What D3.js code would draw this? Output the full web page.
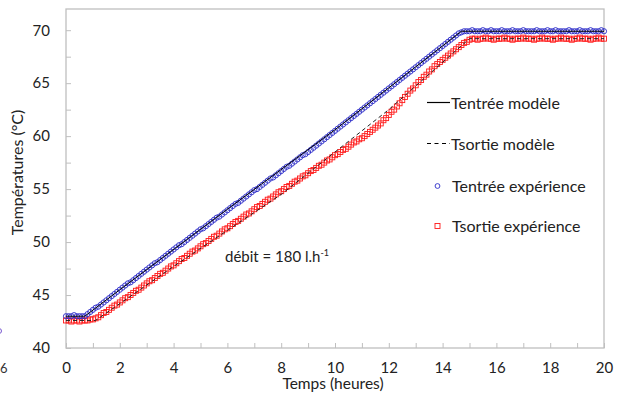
<!DOCTYPE html>
<html>
<head>
<meta charset="utf-8">
<script src="https://cdn.jsdelivr.net/npm/d3@7"></script>
<style>
  body { margin: 0; background: #fff; }
  svg { display: block; font-family: Lato, "Open Sans", sans-serif; }
  .tick text { font-size: 15px; fill: #222; }
</style>
</head>
<body>
<svg id="chart" width="621" height="397"></svg>
<script>
// sampling step of the measurements (hours)
var step = 0.1;

// Tentrée expérience, t = 0 .. 20 h
var tInExp = [
  43.0, 43.0, 43.0, 43.1, 43.0, 43.0, 43.0, 43.0, 43.2, 43.4,
  43.6, 43.8, 43.9, 44.1, 44.3, 44.5, 44.7, 44.9, 45.1, 45.3,
  45.5, 45.7, 45.9, 46.1, 46.2, 46.4, 46.6, 46.8, 47.0, 47.2,
  47.4, 47.6, 47.8, 48.0, 48.1, 48.3, 48.5, 48.7, 48.9, 49.1,
  49.3, 49.5, 49.7, 49.8, 50.0, 50.2, 50.4, 50.6, 50.8, 51.0,
  51.2, 51.3, 51.5, 51.7, 51.9, 52.1, 52.3, 52.4, 52.6, 52.8,
  53.0, 53.2, 53.4, 53.6, 53.7, 53.9, 54.1, 54.3, 54.5, 54.7,
  54.9, 55.0, 55.2, 55.4, 55.6, 55.8, 56.0, 56.1, 56.3, 56.5,
  56.7, 56.9, 57.1, 57.2, 57.4, 57.6, 57.8, 58.0, 58.2, 58.3,
  58.5, 58.7, 58.9, 59.1, 59.3, 59.5, 59.7, 59.9, 60.1, 60.3,
  60.5, 60.7, 60.9, 61.1, 61.3, 61.5, 61.7, 61.9, 62.1, 62.3,
  62.5, 62.7, 62.9, 63.1, 63.3, 63.5, 63.7, 63.9, 64.1, 64.3,
  64.5, 64.7, 64.9, 65.1, 65.3, 65.5, 65.7, 65.9, 66.1, 66.3,
  66.5, 66.7, 66.9, 67.1, 67.3, 67.5, 67.7, 67.9, 68.1, 68.3,
  68.5, 68.7, 68.9, 69.1, 69.3, 69.5, 69.7, 69.8, 69.9, 69.9,
  69.9, 70.0, 69.9, 69.9, 69.9, 70.0, 69.9, 69.9, 70.0, 69.9,
  69.9, 69.9, 70.0, 69.9, 69.9, 69.9, 70.0, 69.9, 69.9, 69.9,
  70.0, 69.9, 69.9, 69.9, 69.9, 70.0, 69.9, 69.9, 69.9, 70.0,
  69.9, 69.9, 70.0, 69.9, 69.9, 69.9, 69.9, 70.0, 69.9, 69.9,
  69.9, 70.0, 69.9, 69.9, 69.9, 70.0, 69.9, 69.9, 69.9, 70.0,
  69.9
];

// Tsortie expérience, t = 0 .. 20 h
var tOutExp = [
  42.6, 42.6, 42.5, 42.6, 42.6, 42.5, 42.6, 42.6, 42.6, 42.7,
  42.7, 42.8, 42.9, 43.1, 43.3, 43.4, 43.6, 43.8, 44.0, 44.1,
  44.3, 44.5, 44.7, 44.8, 45.0, 45.2, 45.4, 45.5, 45.7, 45.9,
  46.1, 46.3, 46.4, 46.6, 46.8, 47.0, 47.1, 47.3, 47.5, 47.7,
  47.8, 48.0, 48.2, 48.4, 48.5, 48.7, 48.9, 49.1, 49.2, 49.4,
  49.6, 49.8, 49.9, 50.1, 50.3, 50.5, 50.6, 50.8, 51.0, 51.2,
  51.3, 51.5, 51.7, 51.9, 52.0, 52.2, 52.4, 52.6, 52.7, 52.9,
  53.1, 53.3, 53.4, 53.6, 53.8, 54.0, 54.1, 54.3, 54.5, 54.7,
  54.8, 55.0, 55.2, 55.3, 55.5, 55.7, 55.8, 56.0, 56.2, 56.3,
  56.5, 56.7, 56.8, 57.0, 57.2, 57.3, 57.5, 57.7, 57.8, 58.0,
  58.2, 58.3, 58.5, 58.7, 58.8, 59.0, 59.2, 59.4, 59.5, 59.7,
  59.8, 60.0, 60.2, 60.4, 60.6, 60.8, 61.0, 61.2, 61.5, 61.7,
  62.0, 62.3, 62.5, 62.8, 63.1, 63.4, 63.7, 64.0, 64.3, 64.5,
  64.8, 65.1, 65.3, 65.6, 65.8, 66.1, 66.3, 66.6, 66.8, 67.0,
  67.2, 67.4, 67.6, 67.8, 68.0, 68.2, 68.4, 68.6, 68.8, 68.9,
  69.1, 69.2, 69.2, 69.1, 69.2, 69.2, 69.3, 69.2, 69.2, 69.1,
  69.2, 69.2, 69.2, 69.3, 69.2, 69.2, 69.1, 69.2, 69.2, 69.2,
  69.3, 69.2, 69.2, 69.2, 69.1, 69.2, 69.2, 69.3, 69.2, 69.2,
  69.2, 69.1, 69.2, 69.2, 69.3, 69.2, 69.2, 69.2, 69.1, 69.2,
  69.2, 69.3, 69.2, 69.2, 69.2, 69.1, 69.2, 69.2, 69.3, 69.2,
  69.2
];

// model curves (breakpoints)
var tInModelT   = [0, 0.7, 2, 6, 10, 14.7, 20];
var tInModelV   = [43.0, 43.0, 45.5, 53.1, 60.6, 69.9, 69.9];
var tOutModelT  = [0, 1.1, 4, 8, 12, 15, 20];
var tOutModelV  = [42.6, 42.6, 47.7, 54.5, 62.5, 69.2, 69.2];

var xTicks = [0, 2, 4, 6, 8, 10, 12, 14, 16, 18, 20];
var yTicks = [40, 45, 50, 55, 60, 65, 70];

var legendLabels = ["Tentrée modèle", "Tsortie modèle", "Tentrée expérience", "Tsortie expérience"];

var margin = { top: 9, right: 17, bottom: 49, left: 66 };
var width = 621 - margin.left - margin.right;
var height = 397 - margin.top - margin.bottom;

var blue = "#2b2bc8";
var red = "#ff1a1a";
var gray = "#bfbfbf";

var svg = d3.select("#chart");

// stray bits of the neighbouring figure at the left edge
svg.append("text").attr("x", 0).attr("y", 373).attr("font-size", 13).attr("fill", "#333").text("6");
svg.append("circle").attr("cx", -1).attr("cy", 331).attr("r", 2.5)
  .attr("fill", "none").attr("stroke", "#7a5ad0").attr("stroke-width", 1);

var g = svg.append("g")
  .attr("transform", "translate(" + margin.left + "," + margin.top + ")");

var x = d3.scaleLinear().domain([0, 20]).range([0, width]);
var y = d3.scaleLinear().domain([40, 72]).range([height, 0]);

// frame
g.append("rect")
  .attr("width", width).attr("height", height)
  .attr("fill", "none").attr("stroke", gray).attr("stroke-width", 1.3);

// minor ticks (inward)
var xAxis = d3.axisBottom(x).tickValues(d3.range(0, 21, 1)).tickSize(-5).tickFormat("");
g.append("g").attr("transform", "translate(0," + height + ")").call(xAxis)
  .call(a => a.select(".domain").remove())
  .selectAll("line").attr("stroke", gray);
var yAxis = d3.axisLeft(y).tickValues(d3.range(40, 72.1, 2.5)).tickSize(-5).tickFormat("");
g.append("g").call(yAxis)
  .call(a => a.select(".domain").remove())
  .selectAll("line").attr("stroke", gray);

// labels
var xLab = d3.axisBottom(x).tickValues(xTicks).tickSize(0).tickPadding(14).tickFormat(d3.format("d"));
g.append("g").attr("transform", "translate(0," + height + ")").call(xLab)
  .call(a => a.select(".domain").remove());
var yLab = d3.axisLeft(y).tickValues(yTicks).tickSize(0).tickPadding(16).tickFormat(d3.format("d"));
g.append("g").call(yLab)
  .call(a => a.select(".domain").remove());
g.selectAll(".tick text").attr("font-family", "Lato, sans-serif");

// axis titles
g.append("text")
  .attr("x", width / 2 - 2).attr("y", height + 41)
  .attr("text-anchor", "middle").attr("font-size", 15.5).attr("fill", "#222")
  .text("Temps (heures)");
g.append("text")
  .attr("transform", "translate(" + (-43) + "," + (height / 2 - 6) + ") rotate(-90)")
  .attr("text-anchor", "middle").attr("font-size", 16).attr("fill", "#222")
  .text("Températures (°C)");

// experimental markers
var inPts = tInExp.map((v, i) => ({ t: i * step, v: v }));
var outPts = tOutExp.map((v, i) => ({ t: i * step, v: v }));

g.selectAll(".sq").data(outPts).enter().append("rect")
  .attr("class", "sq")
  .attr("x", d => x(d.t) - 2.5).attr("y", d => y(d.v) - 2.5)
  .attr("width", 5).attr("height", 5)
  .attr("fill", "none").attr("stroke", red).attr("stroke-width", 0.9);

g.selectAll(".dot").data(inPts).enter().append("circle")
  .attr("class", "dot")
  .attr("cx", d => x(d.t)).attr("cy", d => y(d.v)).attr("r", 2.6)
  .attr("fill", "none").attr("stroke", blue).attr("stroke-width", 0.9);

// model lines
var line = d3.line().x(d => x(d[0])).y(d => y(d[1]));
g.append("path")
  .datum(d3.zip(tInModelT, tInModelV))
  .attr("d", line).attr("fill", "none").attr("stroke", "#000").attr("stroke-width", 1);
g.append("path")
  .datum(d3.zip(tOutModelT, tOutModelV))
  .attr("d", line).attr("fill", "none").attr("stroke", "#222")
  .attr("stroke-width", 1).attr("stroke-dasharray", "4,3");

// legend
var lg = svg.append("g");
var ly = [103, 144, 186, 226];
lg.append("line").attr("x1", 427).attr("x2", 450).attr("y1", ly[0] - 0.5).attr("y2", ly[0] - 0.5)
  .attr("stroke", "#000").attr("stroke-width", 1.2);
lg.append("line").attr("x1", 427).attr("x2", 450).attr("y1", ly[1] - 0.5).attr("y2", ly[1] - 0.5)
  .attr("stroke", "#000").attr("stroke-width", 1.2).attr("stroke-dasharray", "4,3.5");
lg.append("circle").attr("cx", 437.5).attr("cy", ly[2]).attr("r", 2.4)
  .attr("fill", "none").attr("stroke", blue).attr("stroke-width", 0.9);
lg.append("rect").attr("x", 435).attr("y", ly[3] - 2.5).attr("width", 5).attr("height", 5)
  .attr("fill", "none").attr("stroke", red).attr("stroke-width", 0.9);
lg.selectAll(".lt").data(legendLabels).enter().append("text")
  .attr("class", "lt")
  .attr("x", (d, i) => i < 2 ? 451 : 452)
  .attr("y", (d, i) => ly[i] + 5.5)
  .attr("font-size", 16).attr("fill", "#222")
  .text(d => d);

// annotation
var ann = svg.append("text").attr("x", 225).attr("y", 262).attr("font-size", 15).attr("fill", "#222");
ann.append("tspan").text("débit = 180 l.h");
ann.append("tspan").attr("dy", -6).attr("font-size", 9).text("-1");
</script>
</body>
</html>
